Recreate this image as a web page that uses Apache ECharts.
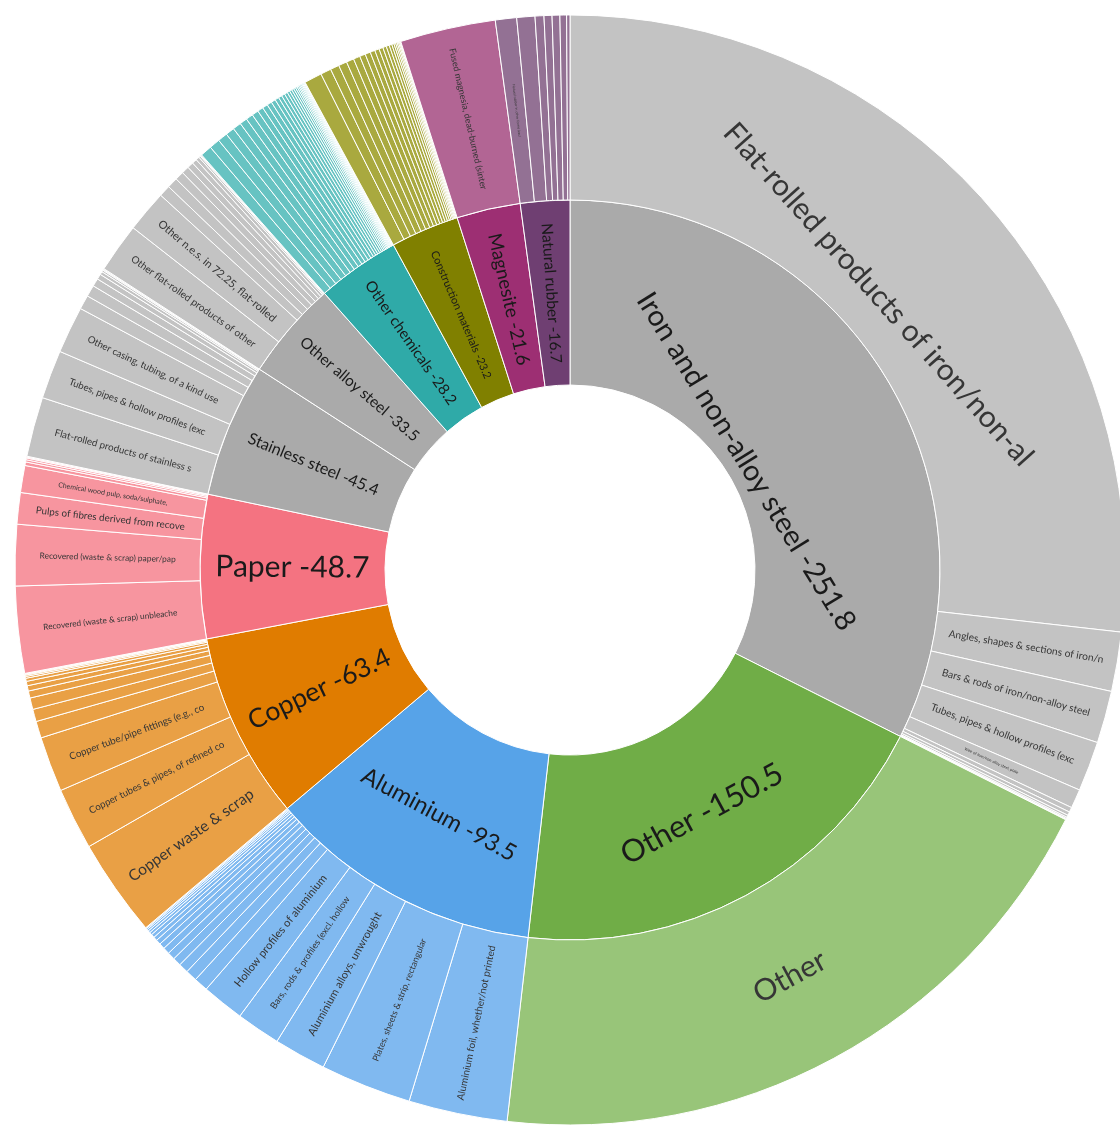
<!DOCTYPE html>
<html><head><meta charset="utf-8">
<script src="https://cdn.jsdelivr.net/npm/echarts@6/dist/echarts.min.js"></script>
<style>html,body{margin:0;padding:0;background:#fff}#c{width:1120px;height:1128px}</style>
</head><body><div id="c"></div>
<script>
// ---- data ----
const categories = ["Iron and non-alloy steel","Other","Aluminium","Copper","Paper","Stainless steel","Other alloy steel","Other chemicals","Construction materials","Magnesite","Natural rubber"];
const categoryValues = [-251.8,-150.5,-93.5,-63.4,-48.7,-45.4,-33.5,-28.2,-23.2,-21.6,-16.7];

const ironNames = ["Flat-rolled products of iron/non-al","Angles, shapes & sections of iron/n","Bars & rods of iron/non-alloy steel","Tubes, pipes & hollow profiles (exc","Wire of iron/non-alloy steel, plate"];
const ironValues = [-208.0,-13.4,-11.8,-11.3,-4.3,-1.1,-0.8,-0.5,-0.3,-0.2,-0.1];

const otherNames = ["Other"];
const otherValues = [-150.5];

const aluminiumNames = ["Aluminium foil, whether/not printed","Plates, sheets & strip, rectangular","Aluminium alloys, unwrought","Bars, rods & profiles (excl. hollow","Hollow profiles of aluminium"];
const aluminiumValues = [-22.3,-20.6,-11.8,-10.0,-9.6,-3.2,-2.6,-2.2,-1.9,-1.7,-1.5,-1.3,-1.1,-0.9,-0.8,-0.6,-0.5,-0.4,-0.3,-0.2];

const copperNames = ["Copper waste & scrap","Copper tubes & pipes, of refined co","Copper tube/pipe fittings (e.g., co"];
const copperValues = [-22.1,-14.0,-12.5,-3.8,-2.8,-2.6,-1.6,-1.2,-1.0,-0.7,-0.4,-0.3,-0.2,-0.1,-0.1];

const paperNames = ["Recovered (waste & scrap) unbleache","Recovered (waste & scrap) paper/pap","Pulps of fibres derived from recove","Chemical wood pulp, soda/sulphate, "];
const paperValues = [-19.6,-13.8,-7.1,-6.1,-0.8,-0.5,-0.4,-0.2,-0.2];

const stainlessNames = ["Flat-rolled products of stainless s","Tubes, pipes & hollow profiles (exc","Other casing, tubing, of a kind use"];
const stainlessValues = [-13.5,-11.0,-10.6,-3.2,-2.6,-1.8,-1.2,-0.7,-0.4,-0.2,-0.2];

const alloyNames = ["Other flat-rolled products of other","Other n.e.s. in 72.25, flat-rolled"];
const alloyValues = [-11.2,-9.5,-2.6,-2.4,-2.0,-1.7,-1.4,-1.1,-0.8,-0.4,-0.2,-0.2];

const chemicalNames = [];
const chemicalValues = [-2.6,-2.4,-2.2,-2.0,-1.9,-1.7,-1.6,-1.5,-1.3,-1.2,-1.1,-1.0,-0.9,-0.8,-0.75,-0.7,-0.6,-0.55,-0.5,-0.45,-0.4,-0.35,-0.3,-0.28,-0.25,-0.22,-0.2,-0.18,-0.15,-0.12];

const constructionNames = [];
const constructionValues = [-4.0,-2.4,-2.0,-1.9,-1.7,-1.5,-1.3,-1.2,-1.1,-1.0,-0.9,-0.8,-0.7,-0.6,-0.5,-0.4,-0.35,-0.3,-0.25,-0.2,-0.1];

const magnesiteNames = ["Fused magnesia, dead-burned (sinter"];
const magnesiteValues = [-21.6];

const rubberNames = ["Natural rubber in other forms (excl","Technically specified natural rubbe","Smoked sheets of natural rubber","Natural rubber latex, prevulcanised","Natural rubber latex","Balata, gutta-percha, guayule, chic","Natural rubber, other"];
const rubberValues = [-4.8,-4.1,-2.0,-1.8,-1.75,-1.5,-0.75];

const childNames = [ironNames,otherNames,aluminiumNames,copperNames,paperNames,stainlessNames,alloyNames,chemicalNames,constructionNames,magnesiteNames,rubberNames];
const childValues = [ironValues,otherValues,aluminiumValues,copperValues,paperValues,stainlessValues,alloyValues,chemicalValues,constructionValues,magnesiteValues,rubberValues];

// ---- styles ----
const innerColors = ["#aaaaaa","#70ad47","#57a3e8","#e07c00","#f47381","#aaaaaa","#aaaaaa","#2faaa8","#808000","#9d2f73","#6f3f72"];
const outerColors = ["#c3c3c3","#98c579","#80b9f0","#e9a045","#f7959f","#c3c3c3","#c3c3c3","#67c3c2","#a9a93f","#b26594","#937194"];
const innerFont = [29,31,23.5,26.5,30,16,15.4,15.2,11,18.8,15.5];
const innerRotate = ["tangential","tangential","tangential","radial","radial","radial","radial","radial","radial","radial","radial"];
const innerPad = [56,0,0,0,0,0,0,0,0,0,0];
const outerFont = [
  [30,10.2,10.2,10.2,4],
  [30],
  [10,9,11,9.3,11.2],
  [15.5,9.7,9.8],
  [8.3,8.4,9.8,7],
  [9.8,9.7,9.7],
  [10,11],
  [],
  [],
  [9],
  [3.5]
];
const outerRotate = {"Flat-rolled products of iron/non-al":"tangential","Other":"tangential"};
const outerPad = {"Flat-rolled products of iron/non-al":34};

const data = categories.map((cat, i) => {
  const kids = childValues[i].map((v, j) => {
    const nm = childNames[i][j] !== undefined ? childNames[i][j] : (cat + " – item " + (j + 1));
    const fs = outerFont[i][j];
    const hasLabel = fs !== undefined;
    const pad = outerPad[nm] || 0;
    return {
      name: nm,
      value: Math.abs(v),
      itemStyle: { color: outerColors[i] },
      label: hasLabel ? {
        show: true, fontSize: fs, rotate: outerRotate[nm] || "radial",
        color: "#363636",
        verticalAlign: pad ? "top" : "middle",
        padding: pad ? [pad, 0, 0, 0] : 0
      } : { show: false }
    };
  });
  return {
    name: cat,
    value: Math.abs(categoryValues[i]),
    itemStyle: { color: innerColors[i] },
    label: {
      show: true,
      formatter: cat + " " + categoryValues[i].toFixed(1),
      fontSize: innerFont[i],
      rotate: innerRotate[i],
      color: "#1a1a1a",
      verticalAlign: innerPad[i] ? "top" : "middle",
      padding: innerPad[i] ? [innerPad[i], 0, 0, 0] : 0
    },
    children: kids
  };
});

const chart = echarts.init(document.getElementById("c"), null, { renderer: "canvas" });
chart.setOption({
  animation: false,
  textStyle: { fontFamily: "Lato, 'Open Sans', sans-serif" },
  series: [{
    type: "sunburst",
    center: [570, 570],
    radius: [0, 555],
    startAngle: 90,
    clockwise: true,
    sort: null,
    nodeClick: false,
    emphasis: { disabled: true },
    itemStyle: { borderColor: "#ffffff", borderWidth: 1 },
    label: { fontFamily: "Lato, 'Open Sans', sans-serif", minAngle: 0 },
    levels: [
      {},
      { r0: 185, r: 370 },
      { r0: 370, r: 555 }
    ],
    data: data
  }]
});
</script>
</body></html>
